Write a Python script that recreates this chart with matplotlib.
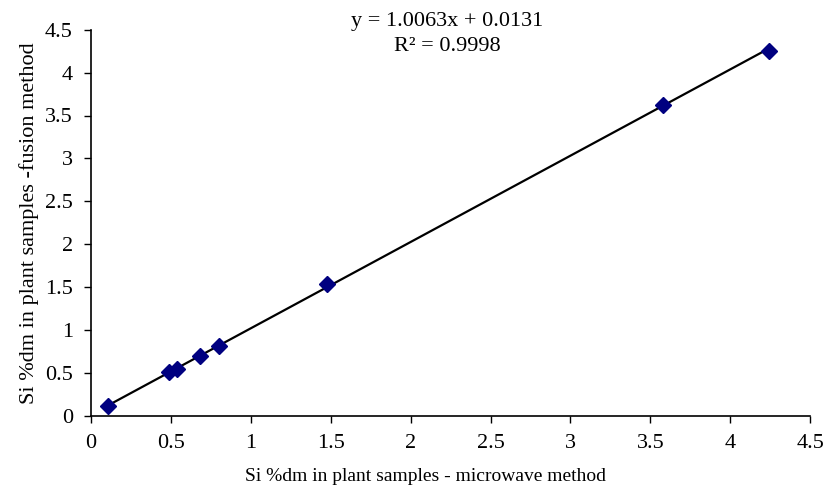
import matplotlib.pyplot as plt
import numpy as np

plt.rcParams['font.family'] = 'Liberation Serif'

# Si %dm, microwave vs fusion method
microwave = [0.11, 0.49, 0.54, 0.68, 0.80, 1.48, 3.58, 4.24]
fusion = [0.11, 0.51, 0.54, 0.70, 0.81, 1.54, 3.62, 4.25]
slope = 1.0063
intercept = 0.0131
r2 = 0.9998

fig = plt.figure(figsize=(8.26, 4.95), dpi=100)
ax = fig.add_axes([0.110, 0.160, 0.871, 0.780])

xs = np.array([min(microwave), max(microwave)])
ax.plot(xs, slope * xs + intercept, color='black', linewidth=1.6, zorder=2)
ax.plot(microwave, fusion, linestyle='none', marker='D', markersize=8.5,
        color='#000080', zorder=3)

ax.set_xlim(0, 4.5)
ax.set_ylim(0, 4.5)
ticks = np.arange(0, 4.51, 0.5)
labels = ['0', '0.5', '1', '1.5', '2', '2.5', '3', '3.5', '4', '4.5']
ax.set_xticks(ticks)
ax.set_yticks(ticks)
ax.set_xticklabels(labels)
ax.set_yticklabels(labels)
ax.tick_params(direction='out', length=5, width=1, labelsize=16)
ax.tick_params(axis='x', pad=8)
ax.tick_params(axis='y', pad=8)

for side in ['top', 'right']:
    ax.spines[side].set_visible(False)
for side in ['left', 'bottom']:
    ax.spines[side].set_linewidth(1.2)

ax.set_xlabel('Si %dm in plant samples - microwave method', fontsize=14, labelpad=8)
ax.xaxis.set_label_coords(0.465, -0.135)
ax.set_ylabel('Si %dm in plant samples -fusion method', fontsize=16, labelpad=4)

ax.text(2.23, 4.6, 'y = %.4fx + %.4f' % (slope, intercept), ha='center', va='center',
        fontsize=16)
ax.text(2.23, 4.31, 'R² = %.4f' % r2, ha='center', va='center', fontsize=16)

fig.savefig('out.png', dpi=100)
